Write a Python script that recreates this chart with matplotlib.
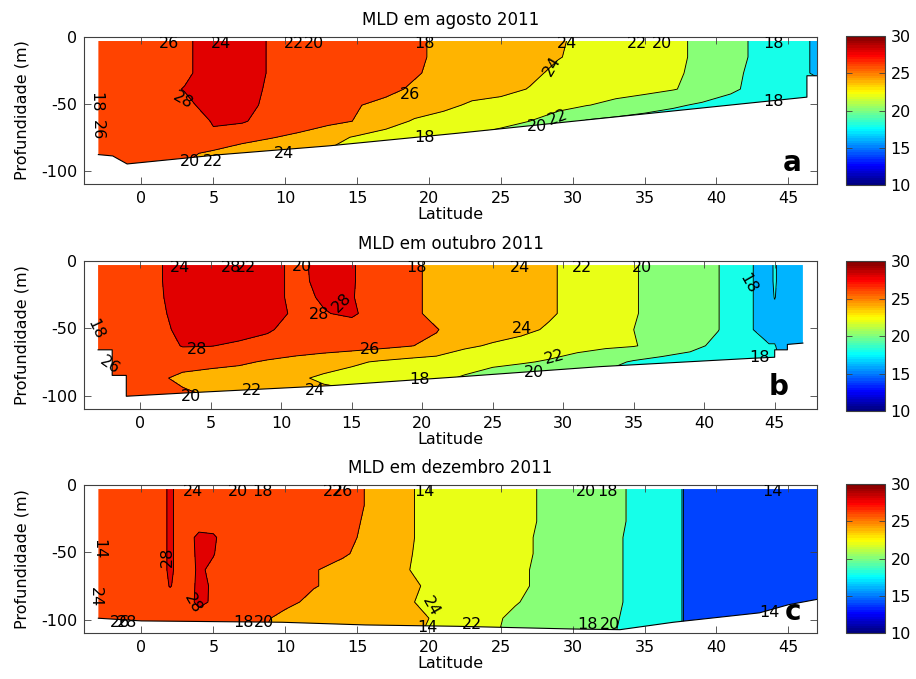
import matplotlib

matplotlib.use("Agg")

import matplotlib.pyplot as plt
import numpy as np
from matplotlib.cm import ScalarMappable
from matplotlib.colors import ListedColormap, Normalize
from matplotlib.patches import Polygon

plt.rcParams["axes.unicode_minus"] = False
plt.rcParams["font.family"] = "DejaVu Sans"

# depth of every grid row (m), shared by the three sections
DEPTH = [-3, -15, -27, -39, -51, -63, -75, -87, -99, -111]
LEVELS = [10, 12, 14, 16, 18, 20, 22, 24, 26, 28, 30]

# ---- agosto 2011 ----
LAT_AGO = [-3, -1, 1, 3, 5, 7, 9, 11, 13, 15, 17, 19, 21, 23, 25, 27, 29, 31, 33, 35, 37, 39, 41, 43, 45, 47]
TEMP_AGO = [
    [27, 27, 27, 27.6, 29, 29, 27.8, 27, 27, 27, 26.8, 26.3, 25.6, 25, 25, 24.8, 24.2, 23.5, 23, 22.9, 22.4, 21.6, 20.6, 19.6, 18.6, 17.8],
    [27, 27, 27, 27.6, 29, 29, 27.8, 27, 27, 27, 26.8, 26.3, 25.6, 25, 25, 24.7, 24.1, 23.4, 23, 22.9, 22.4, 21.6, 20.6, 19.6, 18.6, 17.8],
    [27, 27, 27, 27.6, 29, 29, 27.8, 27, 27, 27, 26.7, 26.2, 25.4, 25, 24.9, 24.5, 23.5, 23, 22.9, 22.8, 22.3, 21.5, 20.4, 19.5, 18.6, 17.8],
    [27, 27, 27.2, 28.1, 29, 29, 27.6, 27, 26.9, 26.8, 26.5, 25.7, 25, 24.8, 24.7, 23.9, 23.1, 22.8, 22.6, 22.5, 22.1, 21.4, 20.3, 19.4, 18.8, 18.6],
    [27, 27, 27.1, 27.5, 28.8, 28.8, 27.4, 27, 26.8, 26.1, 25.5, 25, 24.5, 23.7, 23.2, 22.9, 22.6, 22.05, 21.6, 21, 20.3, 19.7, 19.3, 19, 18.8, 18.6],
    [27, 27, 27, 27.2, 28.1, 28.2, 27.2, 26.9, 26.5, 25.9, 24.8, 23.8, 23.2, 22.9, 22.6, 22.0, 21.0, 19.8, 19.4, 19, 18.8, 18.6, 18.5, 18.4, 18.3, 18.2],
    [27, 27, 27, 27, 27.8, 26.6, 26.1, 25.6, 24.6, 23.8, 23.2, 22.6, 22.2, 21.8, 21.2, 20.6, 20, 19.5, 19.2, 18.9, 18.7, 18.5, 18.4, 18.3, 18.2, 18.1],
    [27, 27, 26.8, 26.4, 25.6, 25.1, 24.7, 24.2, 23.8, 23.3, 22.8, 22.3, 21.8, 21.3, 20.8, 20.4, 20, 19.6, 19.3, 19, 18.8, 18.6, 18.4, 18.3, 18.2, 18.1],
    [27, 27, 26.5, 25.8, 25, 24.6, 24.2, 23.8, 23.3, 22.8, 22.3, 21.8, 21.3, 20.8, 20.4, 20, 19.6, 19.3, 19, 18.8, 18.6, 18.4, 18.3, 18.2, 18.1, 18],
    [27, 27, 26.3, 25.5, 24.7, 24.3, 23.9, 23.5, 23, 22.5, 22, 21.5, 21, 20.6, 20.2, 19.8, 19.4, 19.1, 18.9, 18.7, 18.5, 18.3, 18.2, 18.1, 18.05, 18],
]
MLD_LAT_AGO = [-3, -2, -1, 5.5, 13, 22, 46.3, 46.3, 47]
MLD_AGO = [-88, -89, -95, -88, -81.5, -72, -45, -29, -29]
LABELS_AGO = [
    ("26", 1.9, -4.7, 0), ("24", 5.5, -4.7, 0), ("22", 10.6, -4.7, 0), ("20", 12.0, -4.7, 0),
    ("18", 19.7, -4.7, 0), ("28", 2.9, -47, -30), ("18", -3.2, -49, -90), ("26", -3.1, -70, -90),
    ("20", 3.4, -93, 0), ("22", 5.0, -93, 0), ("24", 9.9, -87, 0), ("26", 18.7, -43, 0),
    ("18", 19.7, -75, 0), ("24", 29.6, -4.7, 0), ("24", 28.6, -22, 60), ("22", 34.5, -4.7, 0),
    ("20", 36.2, -4.7, 0), ("18", 44.0, -4.7, 0), ("18", 44.0, -48, 0), ("22", 29.0, -60, 20),
    ("20", 27.5, -67, 0),
]

# ---- outubro 2011 ----
LAT_OUT = [-3, -1, 1, 3, 5, 7, 9, 11, 13, 15, 17, 19, 21, 23, 25, 27, 29, 31, 33, 35, 37, 39, 41, 43, 44.6, 45, 45.4, 47]
TEMP_OUT = [
    [27, 27, 27.6, 29, 29, 29, 28.8, 27.5, 28.6, 28.15, 27, 26.6, 25.4, 25, 25, 24.8, 24.2, 23.5, 23, 22.1, 21.5, 21, 20.05, 18.3, 17.3, 18.3, 17.3, 17],
    [27, 27, 27.6, 29, 29, 29, 28.8, 27.5, 28.5, 28.15, 27, 26.6, 25.4, 25, 25, 24.8, 24.2, 23.5, 23, 22.1, 21.5, 21, 20.05, 18.3, 17.3, 18.3, 17.3, 17],
    [27, 27, 27.5, 29, 29, 29, 28.8, 27.5, 28.2, 28.1, 27, 26.6, 25.4, 25, 25, 24.8, 24.2, 23.5, 23, 22.1, 21.5, 21, 20.05, 18.3, 17.3, 18.1, 17.3, 17],
    [27, 27, 27.3, 28.9, 29, 29, 28.8, 27.7, 27.9, 28.3, 27, 26.6, 25.4, 25, 25, 24.8, 24.2, 23.5, 23, 22.1, 21.5, 21, 20.05, 18.3, 17.3, 17.3, 17.3, 17],
    [27, 27, 27.1, 28.6, 28.8, 28.7, 28.2, 27.4, 27.2, 27.1, 26.9, 26.6, 26.1, 25, 24.8, 24.4, 23.8, 23.2, 22.8, 22.0, 21.4, 20.9, 20.05, 18.3, 17.3, 17.3, 17.3, 17],
    [27, 27, 27, 28.1, 28.05, 27.7, 27.4, 27.2, 27, 26.8, 26.5, 26.1, 25.6, 24.3, 23.8, 23.4, 23.0, 22.6, 22.3, 22.1, 21.4, 20.6, 19.5, 18.5, 18.1, 18.1, 17.5, 17.2],
    [27, 27, 26.9, 26.7, 26.5, 26.3, 25.8, 25.3, 24.8, 24.3, 23.8, 23.4, 23.1, 22.8, 22.5, 22.2, 21.8, 21.2, 20.6, 19.8, 19.3, 19, 18.6, 18.3, 18.1, 18.1, 18, 18],
    [27, 27, 26.4, 25.6, 25.3, 25, 24.8, 24.3, 23.7, 23.3, 23.2, 23.2, 22.4, 21.8, 21.0, 20.5, 20.1, 19.8, 19.5, 19.2, 19, 18.8, 18.6, 18.3, 18.1, 18.1, 18, 18],
    [27, 27, 26.8, 26.3, 25.8, 25.3, 25, 24.8, 24.5, 24.3, 24.2, 24.1, 23.5, 22.5, 21.5, 20.8, 20.3, 20, 19.6, 19.3, 19, 18.8, 18.6, 18.3, 18.1, 18.1, 18, 18],
    [27, 27, 26.9, 26.5, 26, 25.6, 25.3, 25, 24.7, 24.5, 24.4, 24.3, 23.8, 22.8, 21.8, 21, 20.5, 20.1, 19.7, 19.4, 19.1, 18.9, 18.7, 18.4, 18.2, 18.2, 18.1, 18.1],
]
MLD_LAT_OUT = [-3, -2, -2, -1, -1, 3.3, 13.7, 22.7, 32.6, 43.4, 45, 45, 45.9, 45.9, 47]
MLD_OUT = [-66, -66, -85, -85, -100.5, -98, -92.5, -86, -78.5, -72.3, -71.5, -66, -66, -62, -61]
LABELS_OUT = [
    ("24", 2.8, -4.7, 0), ("28", 6.4, -4.7, 0), ("22", 7.5, -4.7, 0), ("20", 11.5, -4, 0),
    ("18", 19.6, -4.7, 0), ("18", -3.2, -51, -65), ("26", -2.2, -77, -35), ("28", 4.0, -66, 0),
    ("28", 12.7, -40, 0), ("28", 14.3, -31, 45), ("26", 16.3, -66, 0), ("18", 19.8, -88, 0),
    ("20", 3.6, -101, 0), ("22", 7.9, -96, 0), ("24", 12.4, -96, 0), ("24", 26.9, -4.7, 0),
    ("22", 31.3, -4.7, 0), ("20", 35.6, -4.7, 0), ("18", 43.1, -17, -60), ("24", 27.1, -50, 0),
    ("22", 29.4, -71, 15), ("20", 27.9, -83, 0), ("18", 43.9, -72, 0),
]

# ---- dezembro 2011 ----
LAT_DEZ = [-3, -1, 1, 2, 3, 4, 5, 6, 8, 10, 12, 14, 16, 18, 20, 22, 24, 26, 28, 30, 32, 34, 36, 37.6, 37.75, 40, 42, 44, 47]
TEMP_DEZ = [
    [27, 27, 27, 28.3, 27, 27, 27, 27, 27, 27, 27, 26.6, 25.8, 24.5, 23.5, 23, 23, 22.6, 21.8, 21, 20.6, 19.9, 19, 18.1, 15.2, 15, 15, 15, 15],
    [27, 27, 27, 28.3, 27, 27, 27, 27, 27, 27, 27, 26.6, 25.8, 24.5, 23.5, 23, 23, 22.6, 21.8, 21, 20.6, 19.9, 19, 18.1, 15.2, 15, 15, 15, 15],
    [27, 27, 27, 28.3, 27, 27, 27, 27, 27, 27, 27, 26.5, 25.7, 24.5, 23.5, 23, 23, 22.6, 21.8, 21, 20.6, 19.9, 19, 18.1, 15.2, 15, 15, 15, 15],
    [27, 27, 27, 28.3, 27, 28.5, 28.3, 27, 27, 27, 27, 26.4, 25.6, 24.5, 23.5, 23, 23, 22.5, 21.7, 21, 20.6, 19.8, 19, 18.1, 15.2, 15, 15, 15, 15],
    [27, 27, 27, 28.3, 27, 28.4, 28.1, 27, 27, 27, 27, 26.2, 25.4, 24.3, 23.6, 23, 23, 22.5, 21.7, 21, 20.6, 19.8, 19, 18.1, 15.2, 15, 15, 15, 15],
    [27, 27, 27, 28.3, 27, 28.3, 27.6, 27, 27, 27, 26.1, 25.5, 25.2, 24.2, 23.6, 23, 23, 22.4, 21.6, 21, 20.6, 19.8, 18.7, 18.05, 15.2, 15, 15, 15, 15],
    [27, 27, 27, 28.1, 27, 28.4, 27.8, 27, 27, 27, 26.1, 25.5, 25.2, 24.5, 23.8, 23, 23, 22.4, 21.6, 21, 20.6, 19.8, 19, 18.1, 15.2, 15, 15, 15, 15],
    [27, 27, 27, 27, 27, 28.5, 27.7, 27, 27, 26.5, 25.5, 25.2, 25, 24.3, 23.7, 23, 23, 22.1, 21.5, 21, 20.6, 19.8, 18.5, 18.05, 15.2, 15, 15, 15, 15],
    [27, 27, 27, 27, 27, 27, 27, 26.8, 26.6, 25.4, 25.1, 25, 24.8, 24.4, 24.0, 23.4, 22.4, 21.7, 21.2, 20.9, 20.5, 19.7, 19, 18.1, 15.2, 15, 15, 15, 15],
    [27, 27, 27, 27, 27, 27, 27, 26.6, 26.2, 25.2, 25, 24.9, 24.7, 24.3, 23.9, 23.3, 22.3, 21.6, 21.1, 20.8, 20.4, 19.6, 19, 18.1, 15.2, 15, 15, 15, 15],
]
MLD_LAT_DEZ = [-3, 0, 9.8, 15.6, 22, 30, 33.3, 37, 43, 45, 47]
MLD_DEZ = [-99, -101, -102, -104, -105, -107, -107.5, -102, -95, -89, -85]
LABELS_DEZ = [
    ("24", 3.6, -4.7, 0), ("20", 6.7, -4.7, 0), ("18", 8.4, -4.7, 0), ("22", 13.3, -4.7, 0),
    ("26", 14.0, -4.7, 0), ("14", 19.7, -4.7, 0), ("14", -3.0, -48, -90), ("28", 1.8, -53, 90),
    ("24", -3.2, -83, -90), ("28", 3.6, -88, -60), ("26", -1.5, -102, 0), ("28", -1.0, -102, 0),
    ("18", 7.1, -102, 0), ("20", 8.5, -102, 0), ("24", 20.1, -90, -60), ("14", 19.9, -106, 0),
    ("20", 30.9, -4.7, 0), ("18", 32.4, -4.7, 0), ("14", 43.9, -4.7, 0), ("22", 23.0, -104, 0),
    ("18", 31.0, -104, 0), ("20", 32.6, -104, 0), ("14", 43.7, -95, 0),
]


def matlab_jet(n=64):
    x = np.linspace(0, 1, n)
    r = np.clip(1.5 - np.abs(4 * x - 3), 0, 1)
    g = np.clip(1.5 - np.abs(4 * x - 2), 0, 1)
    b = np.clip(1.5 - np.abs(4 * x - 1), 0, 1)
    return np.column_stack([r, g, b])


JET = matlab_jet(64)
CMAP = ListedColormap(JET)
# each filled band takes the colour of its lower level, as in MATLAB contourf
BAND_COLORS = [JET[min(int((lev - 10) / 20 * 64), 63)] for lev in LEVELS[:-1]]

FRAME = "#404040"


def draw_section(ax, cax, lat, temp, mld_lat, mld, labels, title, letter, xmax):
    lat = np.asarray(lat, dtype=float)
    X, Y = np.meshgrid(lat, DEPTH)
    Z = np.asarray(temp, dtype=float)

    outline = [(lat[0], DEPTH[0]), (lat[-1], DEPTH[0])] + list(zip(mld_lat[::-1], mld[::-1]))
    clip = Polygon(outline, closed=True, transform=ax.transData)

    cf = ax.contourf(X, Y, Z, levels=LEVELS, colors=BAND_COLORS)
    cf.set_clip_path(clip)
    cl = ax.contour(X, Y, Z, levels=LEVELS[1:-1], colors="k", linewidths=0.65)
    cl.set_clip_path(clip)
    ax.plot(mld_lat, mld, color="k", lw=0.8)

    for text, x, y, rot in labels:
        ax.text(x, y, text, fontsize=11.5, ha="center", va="center", rotation=rot, clip_on=True)
    ax.text(45.3, -94, letter, fontsize=20, fontweight="bold", ha="center", va="center")

    ax.set_xlim(-4, xmax)
    ax.set_ylim(-110, 0)
    ax.set_xticks([0, 5, 10, 15, 20, 25, 30, 35, 40, 45])
    ax.set_yticks([-100, -50, 0])
    ax.tick_params(direction="in", top=True, right=True, length=5, width=0.6, color=FRAME,
                   labelsize=11.5, pad=5)
    for sp in ax.spines.values():
        sp.set_color(FRAME)
        sp.set_linewidth(0.8)
    ax.set_title(title, fontsize=12, pad=9)
    ax.set_xlabel("Latitude", fontsize=11.5, labelpad=1)
    ax.set_ylabel("Profundidade (m)", fontsize=11.5, labelpad=8)

    sm = ScalarMappable(norm=Normalize(10, 30), cmap=CMAP)
    cb = plt.colorbar(sm, cax=cax)
    cb.set_ticks([10, 15, 20, 25, 30])
    cax.tick_params(direction="in", left=True, right=True, length=4, width=0.6, color=FRAME,
                    labelsize=11.5, pad=4)
    cb.outline.set_edgecolor(FRAME)
    cb.outline.set_linewidth(0.8)


fig = plt.figure(figsize=(9.16, 6.79), dpi=100)

ax_a = fig.add_axes([0.0917, 0.7290, 0.8002, 0.2165])
ax_b = fig.add_axes([0.0917, 0.3976, 0.8002, 0.2180])
ax_c = fig.add_axes([0.0917, 0.0677, 0.8002, 0.2180])
cax_a = fig.add_axes([0.9236, 0.7275, 0.0426, 0.2194])
cax_b = fig.add_axes([0.9236, 0.3947, 0.0426, 0.2209])
cax_c = fig.add_axes([0.9236, 0.0677, 0.0426, 0.2194])

draw_section(ax_a, cax_a, LAT_AGO, TEMP_AGO, MLD_LAT_AGO, MLD_AGO, LABELS_AGO,
             "MLD em agosto 2011", "a", 47)
draw_section(ax_b, cax_b, LAT_OUT, TEMP_OUT, MLD_LAT_OUT, MLD_OUT, LABELS_OUT,
             "MLD em outubro 2011", "b", 48)
draw_section(ax_c, cax_c, LAT_DEZ, TEMP_DEZ, MLD_LAT_DEZ, MLD_DEZ, LABELS_DEZ,
             "MLD em dezembro 2011", "c", 47)

fig.savefig("out.png", dpi=100)
plt.close(fig)
